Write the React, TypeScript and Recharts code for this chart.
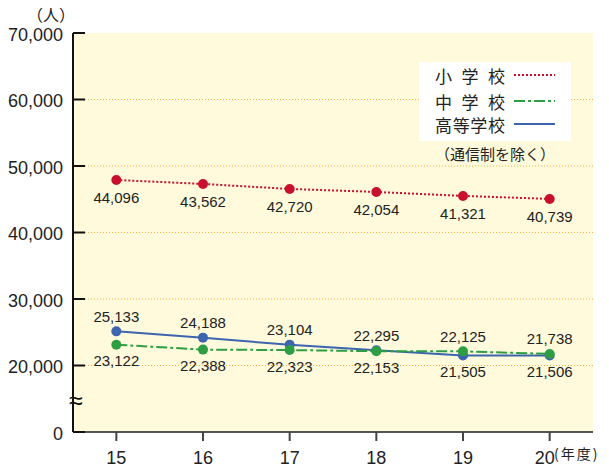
import React from "react";
import {
  LineChart,
  Line,
  XAxis,
  YAxis,
  CartesianGrid,
  Legend,
  LabelList,
} from "recharts";

// ─── Data ─────────────────────────────────────────────────────────────────────

const years = [15, 16, 17, 18, 19, 20];

// 小学校: labels as printed; the drawn line sits higher than its labels in the source
const elementaryLabels = [44096, 43562, 42720, 42054, 41321, 40739];
const elementaryDrawn = [47900, 47300, 46550, 46100, 45500, 45050];
const juniorHigh = [23122, 22388, 22323, 22153, 22125, 21738];
const highSchool = [25133, 24188, 23104, 22295, 21505, 21506];

const yTickLabels = [0, 20000, 30000, 40000, 50000, 60000, 70000];
const gridValues = [20000, 30000, 40000, 50000, 60000];

const seriesNames = ["小学校", "中学校", "高等学校"];

// the axis is broken between 0 and 20,000: that gap takes one 10,000 step
const BREAK = 10000;
const toAxis = (v: number) => (v === 0 ? 0 : v - BREAK);
const fromAxis = (v: number) => (v === 0 ? 0 : v + BREAK);

const data = years.map((year, i) => ({
  year,
  elementary: toAxis(elementaryDrawn[i]),
  junior: toAxis(juniorHigh[i]),
  high: toAxis(highSchool[i]),
}));

// ─── Styling ──────────────────────────────────────────────────────────────────

const RED = "#C8102E";
const GREEN = "#2E9E44";
const BLUE = "#3D64AE";
const BG = "#FFFADB";
const GRID = "#F0B43C";
const FONT = '"Liberation Sans", Arial, sans-serif';
const JP = '"Noto Sans CJK JP", sans-serif';

const fmt = (v: number) => v.toLocaleString("en-US");

// ─── Ticks & labels ───────────────────────────────────────────────────────────

function YTick({ y, payload }: any) {
  return (
    <g>
      <line x1={73} x2={85} y1={y} y2={y} stroke="#111" strokeWidth={2} />
      <text
        x={63}
        y={y + 1.5}
        textAnchor="end"
        dominantBaseline="central"
        fontSize={18}
        fontFamily={FONT}
        fill="#222"
      >
        {fmt(fromAxis(payload.value))}
      </text>
    </g>
  );
}

function XTick({ x, payload }: any) {
  // the last label is nudged left to leave room for the unit text
  const shift = payload.value === years[years.length - 1] ? -5 : 0;
  return (
    <g>
      <line x1={x} x2={x} y1={432} y2={441} stroke="#444" strokeWidth={2} />
      <text
        x={x + shift}
        y={458}
        textAnchor="middle"
        dominantBaseline="central"
        fontSize={18}
        fontFamily={FONT}
        fill="#222"
      >
        {payload.value}
      </text>
    </g>
  );
}

function makeLabel(values: number[], other: number[] | null, forceBelow = false) {
  return (props: any) => {
    const { x, y, index } = props;
    const below = forceBelow || (other !== null && values[index] < other[index]);
    const dy = forceBelow ? 17.5 : below ? 16 : -15;
    return (
      <text
        x={x}
        y={y + dy}
        textAnchor="middle"
        dominantBaseline="central"
        fontSize={15}
        fontFamily={FONT}
        fill="#222"
      >
        {fmt(values[index])}
      </text>
    );
  };
}

// ─── Legend ───────────────────────────────────────────────────────────────────

function LegendBox() {
  const rows = [
    { name: seriesNames[0], color: RED, dash: "2 2", y: 13 },
    { name: seriesNames[1], color: GREEN, dash: "11 3 3 3", y: 39 },
    { name: seriesNames[2], color: BLUE, dash: undefined, y: 62 },
  ];
  return (
    <svg width={160} height={100} style={{ display: "block" }}>
      <rect x={0} y={0} width={152} height={79} fill="#fff" />
      {rows.map((r) => (
        <g key={r.name}>
          <text
            x={16}
            y={r.y}
            dominantBaseline="central"
            fontSize={17}
            fontFamily={JP}
            fill="#222"
            textLength={70}
            lengthAdjust="spacing"
          >
            {r.name}
          </text>
          <line
            x1={95}
            x2={136}
            y1={r.y}
            y2={r.y}
            stroke={r.color}
            strokeWidth={2}
            strokeDasharray={r.dash}
          />
        </g>
      ))}
      <text
        x={76}
        y={91}
        textAnchor="middle"
        dominantBaseline="central"
        fontSize={15}
        fontFamily={JP}
        fill="#222"
      >
        （通信制を除く）
      </text>
    </svg>
  );
}

// ─── App ──────────────────────────────────────────────────────────────────────

export default function App() {
  return (
    <div style={{ position: "absolute", left: 0, top: 0, width: 609, height: 471 }}>
      <LineChart
        width={609}
        height={471}
        data={data}
        margin={{ top: 33, right: 16, bottom: 0, left: 0 }}
      >
        <CartesianGrid
          vertical={false}
          horizontalValues={gridValues.map(toAxis)}
          stroke={GRID}
          strokeDasharray="1 2"
          fill={BG}
          fillOpacity={1}
        />
        <XAxis
          dataKey="year"
          type="number"
          domain={[14.5, 20.5]}
          ticks={years}
          height={39}
          axisLine={{ stroke: "#555", strokeWidth: 2 }}
          tickLine={false}
          tick={<XTick />}
          interval={0}
        />
        <YAxis
          type="number"
          domain={[0, 60000]}
          ticks={yTickLabels.map(toAxis)}
          width={73}
          axisLine={{ stroke: "#111", strokeWidth: 2 }}
          tickLine={false}
          tick={<YTick />}
          interval={0}
        />
        <Legend
          layout="vertical"
          align="center"
          verticalAlign="middle"
          content={<LegendBox />}
          wrapperStyle={{ left: 419, top: 62, width: 160, height: 100 }}
        />
        <Line
          dataKey="high"
          name={seriesNames[2]}
          stroke={BLUE}
          strokeWidth={2}
          dot={{ r: 5, fill: BLUE, stroke: BLUE, strokeWidth: 0 }}
          isAnimationActive={false}
        >
          <LabelList content={makeLabel(highSchool, juniorHigh)} />
        </Line>
        <Line
          dataKey="junior"
          name={seriesNames[1]}
          stroke={GREEN}
          strokeWidth={2}
          strokeDasharray="11 3 3 3"
          dot={{ r: 5, fill: GREEN, stroke: GREEN, strokeWidth: 0 }}
          isAnimationActive={false}
        >
          <LabelList content={makeLabel(juniorHigh, highSchool)} />
        </Line>
        <Line
          dataKey="elementary"
          name={seriesNames[0]}
          stroke={RED}
          strokeWidth={2}
          strokeDasharray="2 2"
          dot={{ r: 5, fill: RED, stroke: RED, strokeWidth: 0 }}
          isAnimationActive={false}
        >
          <LabelList content={makeLabel(elementaryLabels, null, true)} />
        </Line>
      </LineChart>

      <div
        style={{
          position: "absolute",
          left: 27,
          top: 6,
          fontSize: 16,
          fontFamily: JP,
          color: "#222",
          lineHeight: "17px",
        }}
      >
        （人）
      </div>
      <div
        style={{
          position: "absolute",
          left: 554,
          top: 445,
          fontSize: 14,
          fontFamily: JP,
          color: "#222",
          lineHeight: "17px",
          letterSpacing: 2,
        }}
      >
        (年度)
      </div>
      <div
        style={{
          position: "absolute",
          left: 69,
          top: 386,
          fontSize: 25,
          fontFamily: FONT,
          color: "#111",
          lineHeight: "28px",
        }}
      >
        ≈
      </div>
    </div>
  );
}
